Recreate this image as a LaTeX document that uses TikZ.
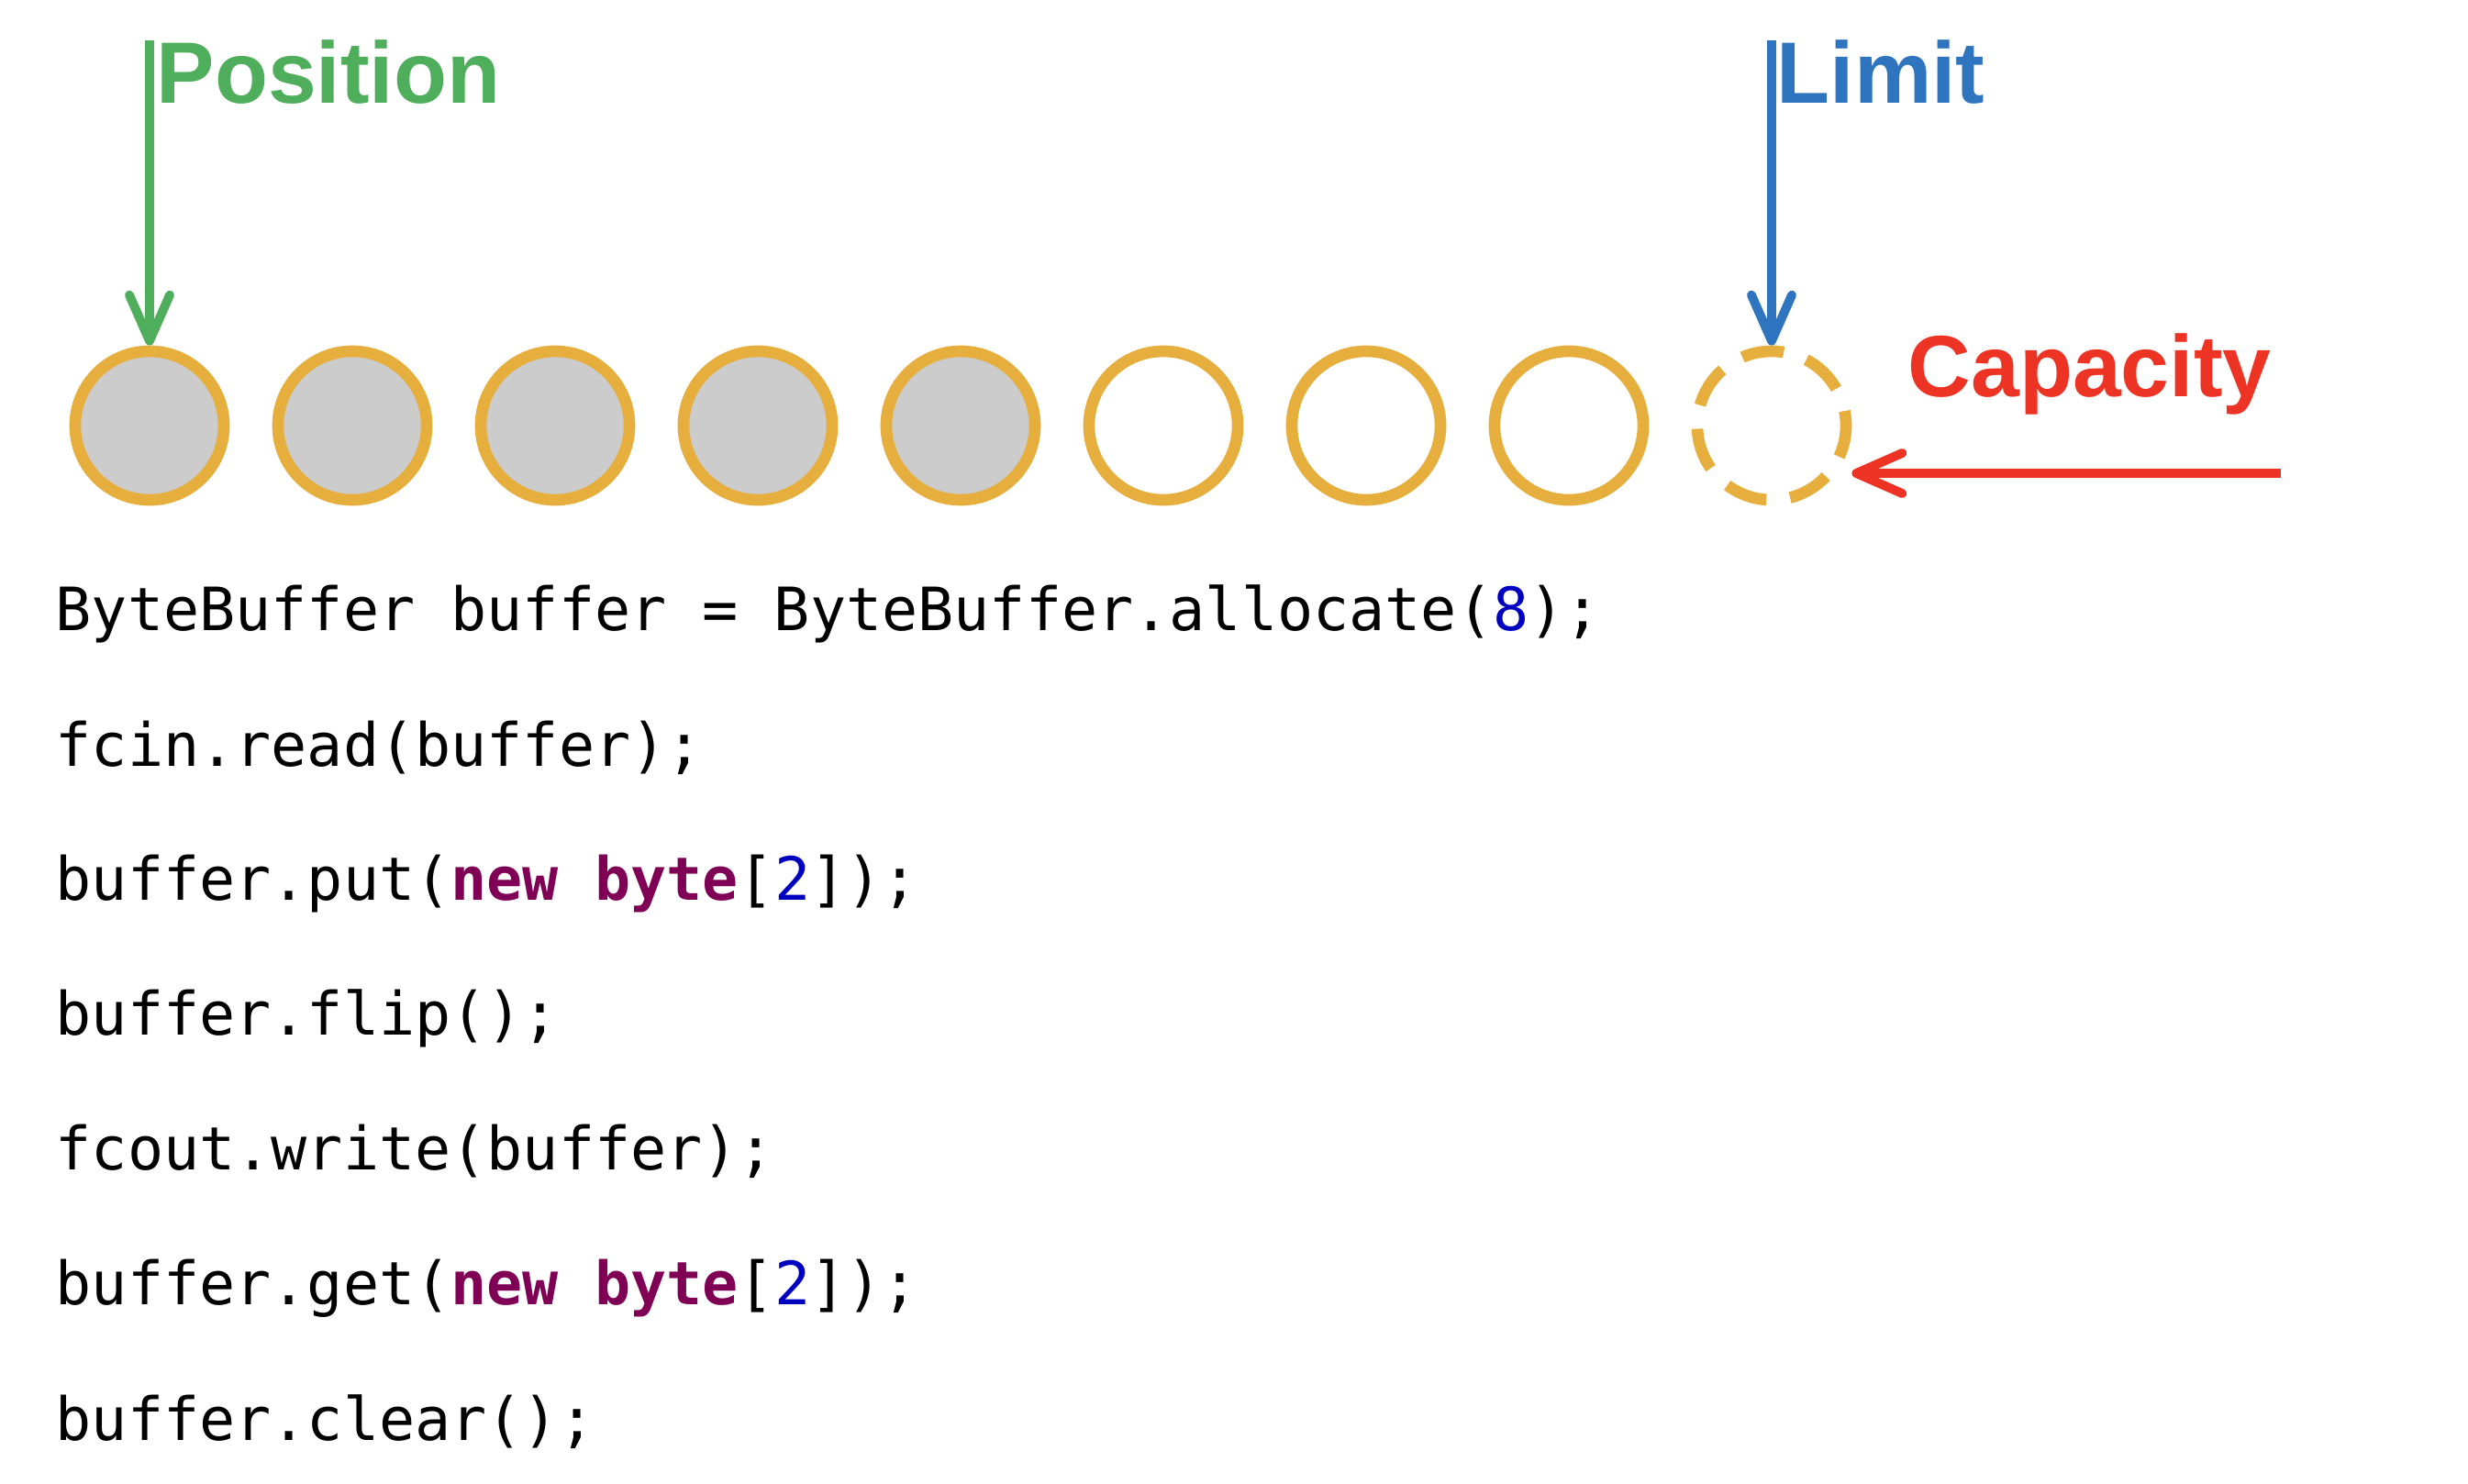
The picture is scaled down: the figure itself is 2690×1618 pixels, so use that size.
\documentclass[tikz,border=0pt]{standalone}
\usepackage{fontspec}
\setsansfont{Liberation Sans}
\setmonofont{DejaVu Sans Mono}
\usetikzlibrary{arrows.meta}
\definecolor{posgreen}{RGB}{78,174,91}
\definecolor{limblue}{RGB}{46,116,190}
\definecolor{capred}{RGB}{236,51,36}
\definecolor{slotorange}{RGB}{230,174,60}
\definecolor{slotgray}{RGB}{204,204,204}
\definecolor{kwpurple}{RGB}{127,0,85}
\definecolor{litblue}{RGB}{0,0,192}
\newcommand{\kwd}[1]{\textcolor{kwpurple}{\bfseries #1}}
\newcommand{\lit}[1]{\textcolor{litblue}{#1}}
\tikzset{
    slot/.style={circle,draw=slotorange,line width=3.6pt,minimum size=1.62cm,inner sep=0pt},
    full/.style={slot,fill=slotgray},
    spare/.style={slot,dash pattern=on 0.46cm off 0.26cm,dash phase=0.3cm},
    marker/.style={line width=2.8pt,-{Straight Barb[length=0.5cm,width=0.44cm,round]}},
    tag/.style={font=\sffamily\bfseries\fontsize{27}{32}\selectfont,anchor=base west,inner sep=0pt},
    code/.style={font=\ttfamily\fontsize{18.5}{22}\selectfont,anchor=base west,inner sep=0pt}
}
\begin{document}
\begin{tikzpicture}[x=0.01cm,y=-0.01cm]
    \useasboundingbox (0,0) rectangle (2690,1618);
    \node[full] (C1) at (163,464) {};
    \node[full] (C2) at (384,464) {};
    \node[full] (C3) at (605,464) {};
    \node[full] (C4) at (826,464) {};
    \node[full] (C5) at (1047,464) {};
    \node[slot] (C6) at (1268,464) {};
    \node[slot] (C7) at (1489,464) {};
    \node[slot] (C8) at (1710,464) {};
    \node[spare] (C9) at (1931,464) {};
    \coordinate (posTop) at (163,44);
    \coordinate (limTop) at (1931,44);
    \coordinate (capTail) at (2486,516);
    \node[tag,text=posgreen] (pos) at (170,113) {Position};
    \node[tag,text=limblue] (lim) at (1936,113) {Limit};
    \node[tag,text=capred] (cap) at (2079,432) {Capacity};
    \draw[marker,posgreen] (posTop) -- (C1.north);
    \draw[marker,limblue] (limTop) -- (C9.north);
    \draw[marker,capred] (capTail) -- (capTail -| C9.east);
    \node[code] (L1) at (60,687) {ByteBuffer buffer = ByteBuffer.allocate(\lit{8});};
    \node[code] (L2) at (60,835) {fcin.read(buffer);};
    \node[code] (L3) at (60,981) {buffer.put(\kwd{new} \kwd{byte}[\lit{2}]);};
    \node[code] (L4) at (60,1128) {buffer.flip();};
    \node[code] (L5) at (60,1275) {fcout.write(buffer);};
    \node[code] (L6) at (60,1422) {buffer.get(\kwd{new} \kwd{byte}[\lit{2}]);};
    \node[code] (L7) at (60,1570) {buffer.clear();};
\end{tikzpicture}
\end{document}
